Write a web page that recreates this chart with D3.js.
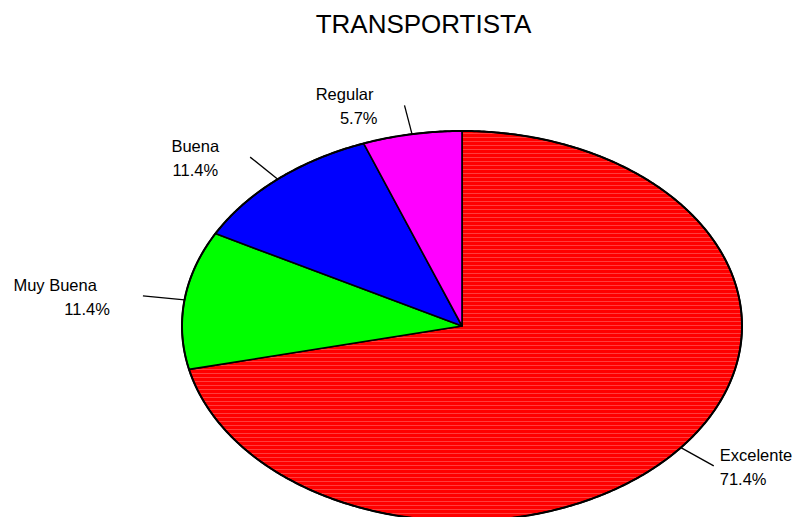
<!DOCTYPE html>
<html>
<head>
<meta charset="utf-8">
<script src="https://cdn.jsdelivr.net/npm/d3@7"></script>
<style>
  html, body { margin: 0; padding: 0; background: #ffffff; }
  svg { display: block; font-family: "Liberation Sans", Arial, sans-serif; }
</style>
</head>
<body>
<svg id="chart" width="797" height="517"></svg>
<script>
// ---- data ----
const chartTitle = "TRANSPORTISTA";
const categories = ["Excelente", "Muy Buena", "Buena", "Regular"];
const counts = [25, 4, 4, 2];
const percentLabels = ["71.4%", "11.4%", "11.4%", "5.7%"];
const sliceColors = ["#FF0000", "#00FF00", "#0000FF", "#FF00FF"];

// ---- layout ----
const W = 797, H = 517;
const cx = 462, cy = 326, rx = 280, ry = 195;
const svg = d3.select("#chart");

const x = d3.scaleLinear().domain([-1, 1]).range([cx - rx, cx + rx]);
const y = d3.scaleLinear().domain([-1, 1]).range([cy + ry, cy - ry]);

// d3 pie angles: clockwise from 12 o'clock
const pie = d3.pie().sort(null).value(d => d).startAngle(0).endAngle(2 * Math.PI);
const arcs = pie(counts);

function pt(a, r) { return [x(r * Math.sin(a)), y(r * Math.cos(a))]; }

const line = d3.line();

// subtle red texture pattern
const defs = svg.append("defs");
const pat = defs.append("pattern").attr("id", "hl").attr("patternUnits", "userSpaceOnUse")
  .attr("width", 8).attr("height", 4);
pat.append("rect").attr("width", 8).attr("height", 4).attr("fill", "#FF0000");
pat.append("rect").attr("y", 1).attr("width", 8).attr("height", 1).attr("fill", "#FF3c3c");

const g = svg.append("g");
arcs.forEach((d, i) => {
  const n = Math.max(8, Math.ceil((d.endAngle - d.startAngle) / (Math.PI / 360)));
  const pts = [[x(0), y(0)]];
  for (let k = 0; k <= n; k++) {
    const a = d.startAngle + (d.endAngle - d.startAngle) * k / n;
    pts.push(pt(a, 1));
  }
  pts.push([x(0), y(0)]);
  g.append("path")
    .attr("d", line(pts) + "Z")
    .attr("fill", i === 0 ? "url(#hl)" : sliceColors[i])
    .attr("stroke", "#000")
    .attr("stroke-width", 1.6)
    .attr("stroke-linejoin", "round");
});

// outer outline
const outer = [];
for (let k = 0; k <= 720; k++) outer.push(pt(2 * Math.PI * k / 720, 1));
g.append("path").attr("d", line(outer)).attr("fill", "none")
  .attr("stroke", "#000").attr("stroke-width", 2);

// labels
const lineDx = [[6, 6], [-46, -33], [-31, -32], [-31, -27]];
arcs.forEach((d, i) => {
  const mid = (d.startAngle + d.endAngle) / 2;
  const p0 = pt(mid, 1.0), p1 = pt(mid, 1.15);
  svg.append("line")
    .attr("x1", p0[0]).attr("y1", p0[1]).attr("x2", p1[0]).attr("y2", p1[1])
    .attr("stroke", "#000").attr("stroke-width", 1.3);
  const right = Math.sin(mid) > 0;
  const t = svg.append("text")
    .attr("font-size", 16.5).attr("fill", "#000")
    .attr("text-anchor", right ? "start" : "end");
  t.append("tspan").attr("x", p1[0] + lineDx[i][0]).attr("y", p1[1] - 5).text(categories[i]);
  t.append("tspan").attr("x", p1[0] + lineDx[i][1]).attr("y", p1[1] + 19).text(percentLabels[i]);
});

// title
svg.append("text")
  .attr("x", 423.5).attr("y", 33)
  .attr("text-anchor", "middle")
  .attr("font-size", 26)
  .attr("fill", "#000")
  .text(chartTitle);
</script>
</body>
</html>
